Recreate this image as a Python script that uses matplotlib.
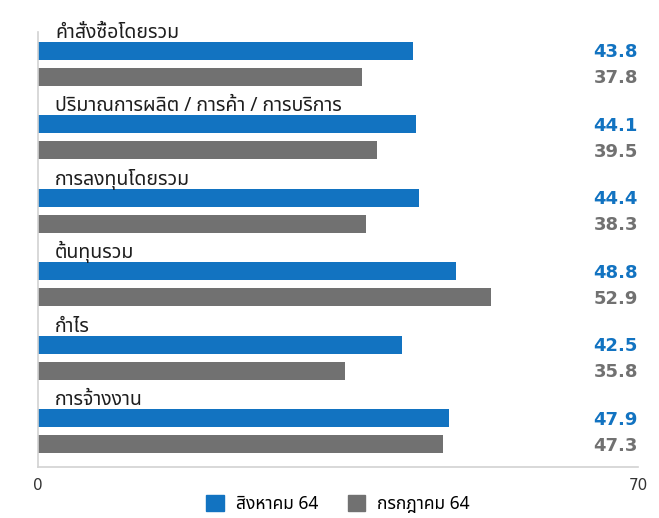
import matplotlib
matplotlib.use('Agg')
import matplotlib.pyplot as plt
from matplotlib.patches import Patch

# ดัชนีความเชื่อมั่น (สิงหาคม 64 vs กรกฎาคม 64)
categories = ["คำสั่งซื้อโดยรวม", "ปริมาณการผลิต / การค้า / การบริการ", "การลงทุนโดยรวม",
              "ต้นทุนรวม", "กำไร", "การจ้างงาน"]
aug_64 = [43.8, 44.1, 44.4, 48.8, 42.5, 47.9]
jul_64 = [37.8, 39.5, 38.3, 52.9, 35.8, 47.3]
series_names = ["สิงหาคม 64", "กรกฎาคม 64"]
xticks = [0, 70]

BLUE = "#1273c1"
GRAY = "#717171"
THAI = ["Noto Sans Thai", "DejaVu Sans"]
NUM = ["DejaVu Sans"]

W, H = 659, 518
fig = plt.figure(figsize=(W / 100, H / 100), dpi=100)
ax = fig.add_axes([38 / W, (H - 467) / H, 600 / W, (467 - 32) / H])

step = 73.4  # px between groups
off = 26 / step
bh = 18 / step

for i, (cat, a, j) in enumerate(zip(categories, aug_64, jul_64)):
    ax.barh(i, a, height=bh, color=BLUE)
    ax.barh(i + off, j, height=bh, color=GRAY)
    ax.text(2.0, i - 13 / step, cat, ha='left', va='baseline', fontsize=14,
            family=THAI, color="#1e1e1e", clip_on=False)
    ax.text(70, i + 1.5 / step, f"{a:.1f}", ha='right', va='center', fontsize=13,
            fontweight='bold', family=NUM, color=BLUE, clip_on=False)
    ax.text(70, i + off + 1.5 / step, f"{j:.1f}", ha='right', va='center', fontsize=13,
            fontweight='bold', family=NUM, color=GRAY, clip_on=False)

ax.set_xlim(0, 70)
ax.set_ylim((467 - 51) / step, (32 - 51) / step)
ax.set_yticks([])
ax.set_xticks(xticks)
ax.set_xticklabels([str(t) for t in xticks], family=NUM, fontsize=11, color="#333333")
ax.tick_params(axis='x', length=0, pad=8)
for s in ['top', 'right']:
    ax.spines[s].set_visible(False)
for s in ['left', 'bottom']:
    ax.spines[s].set_color("#d2d2d2")
    ax.spines[s].set_linewidth(1.2)

handles = [Patch(color=BLUE, label=series_names[0]), Patch(color=GRAY, label=series_names[1])]
fig.legend(handles=handles, loc='center', bbox_to_anchor=(338 / W, (H - 504) / H), ncol=2,
           frameon=False, prop={'family': THAI, 'size': 12.5}, handlelength=1.0, handleheight=1.0,
           handletextpad=0.7, columnspacing=1.7, borderaxespad=0, borderpad=0)

fig.savefig("out.png", dpi=100)
